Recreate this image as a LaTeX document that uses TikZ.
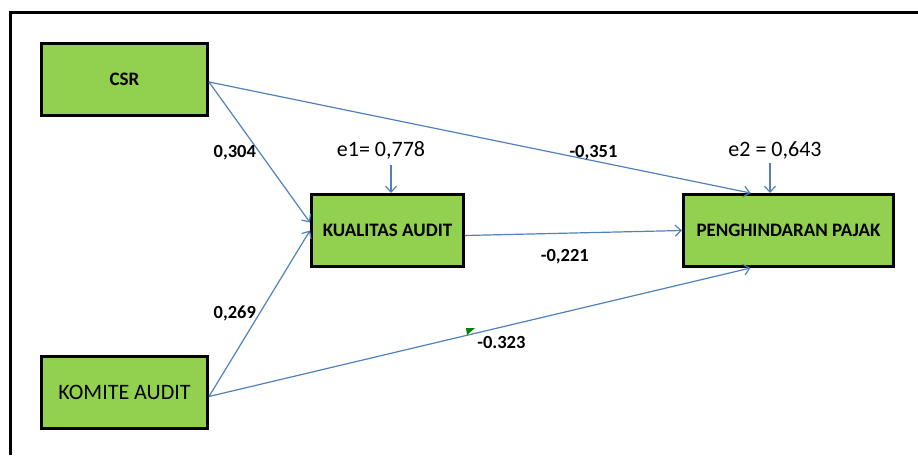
\documentclass[tikz,border=0pt]{standalone}
\usepackage{fontspec}
\setmainfont{Carlito}
\usetikzlibrary{arrows.meta, positioning, calc}

\definecolor{boxgreen}{RGB}{146,208,80}
\definecolor{pathblue}{RGB}{79,129,189}

\begin{document}
\begin{tikzpicture}[
        x=1pt, y=-1pt,
        >={Straight Barb[length=6pt, width=11pt]},
        var/.style={rectangle, draw=black, line width=3pt, fill=boxgreen, minimum height=72pt, align=center, font=\fontsize{19}{22}\selectfont\bfseries},
        coef/.style={font=\fontsize{18.5}{22}\selectfont\bfseries, inner sep=0pt},
        err/.style={font=\fontsize{22}{26}\selectfont, inner sep=0pt},
        arrow/.style={->, line width=1.2pt, draw=pathblue}
    ]
    \useasboundingbox (0,0) rectangle (918,455);

    % outer frame, only the left and top edges are in view
    \draw[line width=3pt] (10,455) -- (10,12) -- (918,12);

    \node[var, minimum width=166pt] (csr) at (124.5,79) {CSR};
    \node[var, minimum width=166pt, font=\fontsize{22}{26}\selectfont] (komite) at (124.5,392.5) {KOMITE AUDIT};
    \node[var, minimum width=152pt] (kualitas) at (387.5,230.5) {KUALITAS AUDIT};
    \node[var, minimum width=210pt] (pajak) at (788.5,230.5) {PENGHINDARAN PAJAK};

    \node[err] (e1) at (381,150) {e1= 0,778};
    \node[err] (e2) at (775,150) {e2 = 0,643};

    \draw[arrow] ([yshift=-3pt]csr.east) -- node[coef, pos=.5, left=3pt] {0,304} ([yshift=8pt]kualitas.west);
    \draw[arrow] ([yshift=-4pt]komite.east) -- node[coef, pos=.5, left=3pt] {0,269} (kualitas.west);
    \draw[arrow] ([yshift=-3pt]csr.east) -- node[coef, pos=.71, yshift=8pt] {-0,351} ([xshift=-38pt]pajak.north);
    \draw[arrow] ([yshift=-5pt]kualitas.east) -- node[coef, pos=.46, yshift=-23pt] {-0,221} (pajak.west);
    \draw[arrow] ([yshift=-4pt]komite.east) -- node[coef, pos=.54, yshift=-15pt] {-0.323} ([xshift=-38pt]pajak.south);

    % error terms
    \draw[arrow] ([xshift=10pt, yshift=-6pt]e1.south) -- ([xshift=3.5pt]kualitas.north);
    \draw[arrow] ([xshift=-5pt, yshift=-4pt]e2.south) -- ([xshift=-18.5pt]pajak.north);

    % small cell marker
    \fill[green!50!black] (466,328) -- (475,328) -- (467,335) -- cycle;

\end{tikzpicture}
\end{document}
